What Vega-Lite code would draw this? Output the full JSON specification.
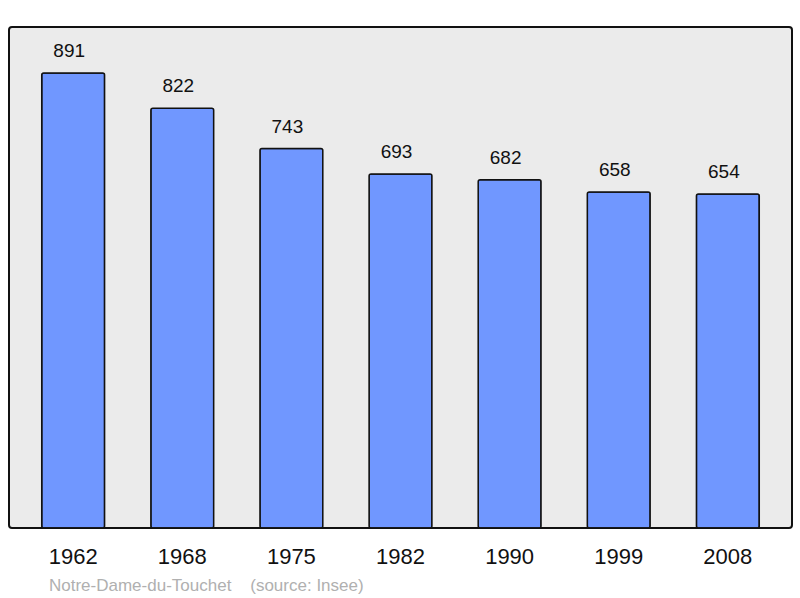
{
  "$schema": "https://vega.github.io/schema/vega-lite/v6.json",
  "width": 783,
  "height": 501,
  "autosize": {"type": "none"},
  "padding": {"left": 9, "top": 27, "right": 8, "bottom": 70},
  "background": "white",
  "config": {
    "font": "Liberation Sans",
    "view": {"fill": "#ebebeb", "stroke": "#111111", "strokeWidth": 2, "cornerRadius": 3}
  },
  "title": {
    "text": "Notre-Dame-du-Touchet\u00a0\u00a0\u00a0\u00a0(source: Insee)",
    "orient": "bottom",
    "anchor": "start",
    "dx": 40,
    "offset": 11,
    "fontSize": 17,
    "fontWeight": "normal",
    "color": "#b0b0b0",
    "font": "Liberation Sans"
  },
  "data": {
    "values": [
      {"year": "1962", "population": 891},
      {"year": "1968", "population": 822},
      {"year": "1975", "population": 743},
      {"year": "1982", "population": 693},
      {"year": "1990", "population": 682},
      {"year": "1999", "population": 658},
      {"year": "2008", "population": 654}
    ]
  },
  "encoding": {
    "x": {
      "field": "year",
      "type": "nominal",
      "title": null,
      "scale": {"paddingInner": 0.424, "paddingOuter": 0.3},
      "axis": {
        "labelAngle": 0,
        "domain": false,
        "ticks": false,
        "labelFontSize": 22,
        "labelColor": "#111111",
        "labelPadding": 18,
        "labelFont": "Liberation Sans"
      }
    },
    "y": {
      "field": "population",
      "type": "quantitative",
      "scale": {"domain": [0, 981], "nice": false},
      "axis": null
    }
  },
  "layer": [
    {
      "mark": {"type": "bar", "fill": "#7097ff", "stroke": "#111111", "strokeWidth": 1.5, "cornerRadius": 2}
    },
    {
      "mark": {"type": "text", "baseline": "bottom", "dy": -12, "dx": -4, "fontSize": 19, "color": "#111111"},
      "encoding": {"text": {"field": "population", "type": "quantitative"}}
    }
  ]
}
